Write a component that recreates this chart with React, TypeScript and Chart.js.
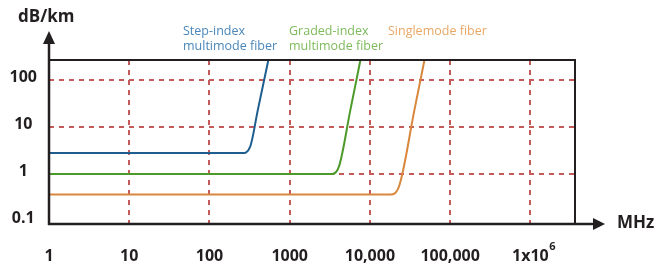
import React, { useEffect, useRef } from 'react';
import { Chart, registerables } from 'chart.js';

Chart.register(...registerables);

// ---- data ----
const xTicks = [1, 10, 100, 1000, 10000, 100000, 1000000];
const xTickLabels = ['1', '10', '100', '1000', '10,000', '100,000', '1x10'];
const xTickSuperscript = '6';
const yTicks = [0.1, 1, 10, 100];
const yTickLabels = ['0.1', '1', '10', '100'];

const stepLabel = ['Step-index', 'multimode fiber'];
const stepFreq = [1, 257, 321, 401, 576];
const stepAtt = [2.8, 2.8, 3.81, 23.4, 441];

const gradedLabel = ['Graded-index', 'multimode fiber'];
const gradedFreq = [1, 3360, 4140, 5710, 8070];
const gradedAtt = [1, 1, 1.5, 23.4, 441];

const singleLabel = ['Singlemode fiber'];
const singleFreq = [1, 18000, 23200, 35900, 50700];
const singleAtt = [0.368, 0.368, 0.564, 23.4, 441];

const yAxisTitle = 'dB/km';
const xAxisTitle = 'MHz';

// ---- styles ----
const INK = '#231f20';
const GRID = '#c55a5a';
const FONT = '"Open Sans", "Noto Sans", sans-serif';

const toPoints = (xs: number[], ys: number[]) => xs.map((x, i) => ({ x, y: ys[i] }));

const overlay = {
  id: 'overlay',
  afterDraw(chart: any) {
    const { ctx, chartArea: a, scales } = chart;
    ctx.save();
    ctx.strokeStyle = INK;
    ctx.fillStyle = INK;
    // top and right border of the plot box
    ctx.lineWidth = 2;
    ctx.beginPath();
    ctx.moveTo(a.left, a.top);
    ctx.lineTo(a.right, a.top);
    ctx.lineTo(a.right, a.bottom);
    ctx.stroke();
    // y axis with arrow
    ctx.lineWidth = 2.5;
    ctx.beginPath();
    ctx.moveTo(a.left, a.bottom + 1);
    ctx.lineTo(a.left, a.top - 17);
    ctx.stroke();
    ctx.beginPath();
    ctx.moveTo(a.left - 6, a.top - 16);
    ctx.lineTo(a.left + 6, a.top - 16);
    ctx.lineTo(a.left, a.top - 29);
    ctx.closePath();
    ctx.fill();
    // x axis with arrow
    ctx.beginPath();
    ctx.moveTo(a.left - 1, a.bottom);
    ctx.lineTo(a.right + 19, a.bottom);
    ctx.stroke();
    ctx.beginPath();
    ctx.moveTo(a.right + 18, a.bottom - 6);
    ctx.lineTo(a.right + 18, a.bottom + 6);
    ctx.lineTo(a.right + 30, a.bottom);
    ctx.closePath();
    ctx.fill();

    // axis titles
    ctx.font = `bold 17px ${FONT}`;
    ctx.textBaseline = 'middle';
    ctx.textAlign = 'left';
    ctx.fillText(yAxisTitle, 18, 17);
    ctx.fillText(xAxisTitle, 617, 223);

    // superscript on the last x tick
    const xs = scales.x;
    const px = xs.getPixelForValue(xTicks[xTicks.length - 1]);
    ctx.font = `bold 16px ${FONT}`;
    const w = ctx.measureText(xTickLabels[xTickLabels.length - 1]).width;
    ctx.font = `bold 11px ${FONT}`;
    ctx.textBaseline = 'alphabetic';
    ctx.fillText(xTickSuperscript, px + w / 2 + 0.5, 250);

    // series labels
    ctx.font = `12.5px ${FONT}`;
    const drawLabel = (lines: string[], x: number, y: number, color: string) => {
      ctx.fillStyle = color;
      lines.forEach((l, i) => ctx.fillText(l, x, y + i * 15));
    };
    drawLabel(stepLabel, 183, 35, '#4a87ba');
    drawLabel(gradedLabel, 289, 35, '#7dba5b');
    drawLabel(singleLabel, 388, 35, '#e9a766');
    ctx.restore();
  },
};

export default function App() {
  const ref = useRef<HTMLCanvasElement>(null);
  useEffect(() => {
    if (!ref.current) return;
    const chart = new Chart(ref.current, {
      type: 'line',
      data: {
        datasets: [
          { label: stepLabel.join(' '), data: toPoints(stepFreq, stepAtt), borderColor: '#1d5e8e' },
          { label: gradedLabel.join(' '), data: toPoints(gradedFreq, gradedAtt), borderColor: '#4c9a2a' },
          { label: singleLabel.join(' '), data: toPoints(singleFreq, singleAtt), borderColor: '#d8873c' },
        ].map((d) => ({
          ...d,
          borderWidth: 2,
          pointRadius: 0,
          fill: false,
          cubicInterpolationMode: 'monotone' as const,
        })),
      },
      options: {
        animation: false,
        responsive: false,
        devicePixelRatio: 1,
        layout: { padding: { top: 60, right: 84, left: 0, bottom: 0 } },
        plugins: { legend: { display: false }, tooltip: { enabled: false } },
        scales: {
          x: {
            type: 'logarithmic',
            min: 1,
            max: 3600000,
            afterBuildTicks: (s: any) => {
              s.ticks = xTicks.map((v) => ({ value: v }));
            },
            afterFit: (s: any) => {
              s.height = 43;
            },
            border: { display: false, dash: [5, 5] },
            grid: {
              drawTicks: false,
              lineWidth: 2,
              color: (c: any) => (c.tick && c.tick.value === 1 ? 'rgba(0,0,0,0)' : GRID),
            },
            ticks: {
              autoSkip: false,
              maxRotation: 0,
              padding: 23,
              color: INK,
              font: { family: FONT, size: 16, weight: 'bold' },
              callback: (v: any) => {
                const i = xTicks.indexOf(Number(v));
                return i >= 0 ? xTickLabels[i] : '';
              },
            },
          },
          y: {
            type: 'logarithmic',
            min: 0.0863,
            max: 270,
            afterBuildTicks: (s: any) => {
              s.ticks = yTicks.map((v) => ({ value: v }));
            },
            afterFit: (s: any) => {
              s.width = 49;
            },
            border: { display: false, dash: [5, 5] },
            grid: {
              drawTicks: false,
              lineWidth: 2,
              color: (c: any) => (c.tick && c.tick.value === 0.1 ? 'rgba(0,0,0,0)' : GRID),
            },
            ticks: {
              padding: 12,
              crossAlign: 'center',
              labelOffset: -3,
              color: INK,
              font: { family: FONT, size: 16, weight: 'bold' },
              callback: (v: any) => {
                const i = yTicks.indexOf(Number(v));
                return i >= 0 ? yTickLabels[i] : '';
              },
            },
          },
        },
      },
      plugins: [overlay],
    });
    return () => chart.destroy();
  }, []);
  return (
    <div style={{ position: 'fixed', left: 0, top: 0, width: 659, height: 267, background: '#fff' }}>
      <canvas ref={ref} width={659} height={267} />
    </div>
  );
}
